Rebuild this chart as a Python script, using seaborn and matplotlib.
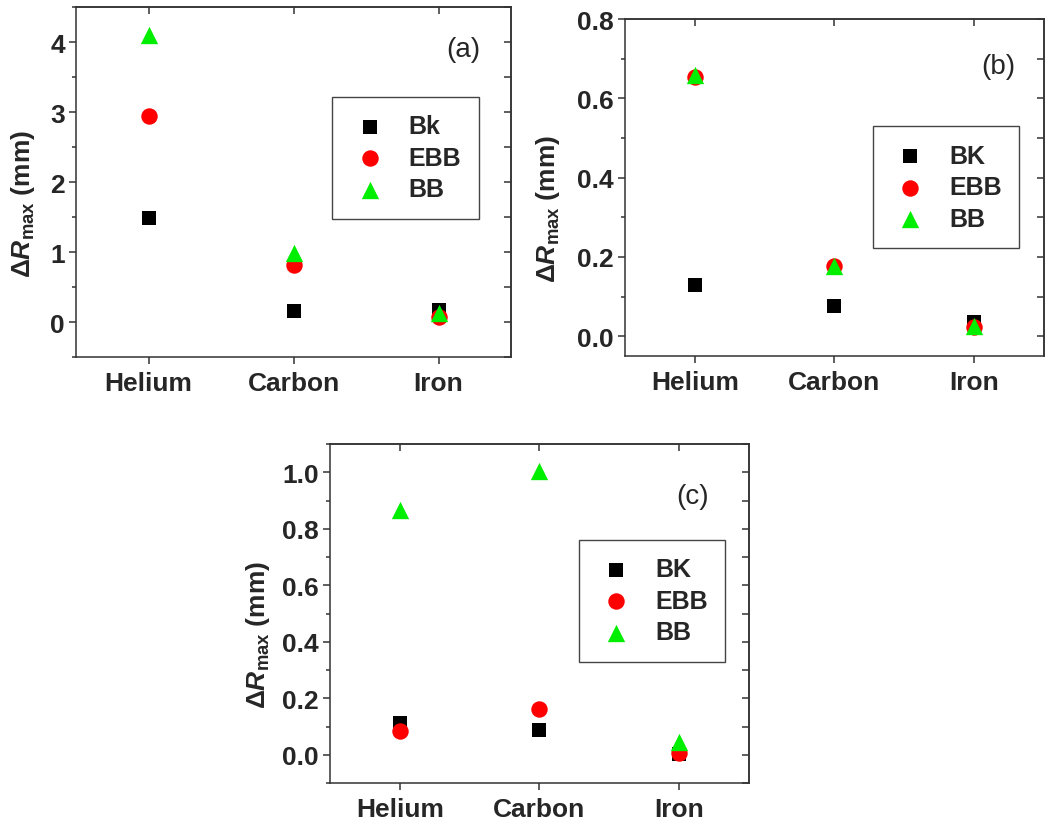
import seaborn as sns
import matplotlib.pyplot as plt
from matplotlib.ticker import MultipleLocator, FormatStrFormatter, NullFormatter

# valores (Delta R_max em mm)
materiais = ['Helium', 'Carbon', 'Iron']

nomes_a = ['Bk', 'EBB', 'BB']
bk_a = [1.49, 0.157, 0.17]
ebb_a = [2.95, 0.82, 0.07]
bb_a = [4.10, 0.99, 0.13]

nomes_bc = ['BK', 'EBB', 'BB']
bk_b = [0.129, 0.076, 0.037]
ebb_b = [0.655, 0.177, 0.022]
bb_b = [0.658, 0.178, 0.027]

bk_c = [0.112, 0.087, 0.004]
ebb_c = [0.085, 0.162, 0.008]
bb_c = [0.868, 1.006, 0.045]

sns.set_style('ticks')
plt.rcParams['font.family'] = ['Liberation Sans', 'DejaVu Sans']
plt.rcParams['font.weight'] = 'bold'
plt.rcParams['axes.labelweight'] = 'bold'
plt.rcParams['mathtext.fontset'] = 'custom'
plt.rcParams['mathtext.rm'] = 'Liberation Sans'
plt.rcParams['mathtext.it'] = 'Liberation Sans:italic:bold'
plt.rcParams['mathtext.bf'] = 'Liberation Sans:bold'

marcadores = ['s', 'o', '^']
cores = ['black', '#ff0000', '#00ee00']
tamanhos = [88, 140, 156]
cor_eixo = '#333333'

fig = plt.figure(figsize=(10.5, 8.28), dpi=100)
ax_a = fig.add_axes([0.0724, 0.5676, 0.4143, 0.4227])
ax_b = fig.add_axes([0.5952, 0.5688, 0.3990, 0.4070])
ax_c = fig.add_axes([0.3143, 0.0531, 0.3990, 0.4094])

paineis = [
    (ax_a, nomes_a, [bk_a, ebb_a, bb_a], (-0.5, 4.5), 1, 0.5, '%d', '(a)', (0.89, 0.88), (0.589, 0.743), -0.09),
    (ax_b, nomes_bc, [bk_b, ebb_b, bb_b], (-0.05, 0.8), 0.2, 0.1, '%.1f', '(b)', (0.89, 0.861), (0.592, 0.682), -0.150),
    (ax_c, nomes_bc, [bk_c, ebb_c, bb_c], (-0.1, 1.1), 0.2, 0.1, '%.1f', '(c)', (0.866, 0.847), (0.594, 0.717), -0.138),
]

for ax, nomes, series, ylim, maior, menor, fmt, letra, pos_letra, pos_leg, pos_lab in paineis:
    for nome, vals, m, c, s in zip(nomes, series, marcadores, cores, tamanhos):
        sns.scatterplot(x=materiais, y=vals, marker=m, color=c, s=s,
                        linewidth=0, label=nome, ax=ax, zorder=3)

    ax.set_xlim(-0.5, 2.5)
    ax.set_ylim(*ylim)
    ax.yaxis.set_major_locator(MultipleLocator(maior))
    ax.yaxis.set_minor_locator(MultipleLocator(menor))
    ax.yaxis.set_major_formatter(FormatStrFormatter(fmt))
    ax.tick_params(axis='both', which='major', direction='out', length=5,
                   width=1.1, labelsize=19, color=cor_eixo)
    ax.tick_params(axis='y', which='minor', direction='out', length=3,
                   width=1.1, color=cor_eixo)
    ax.tick_params(axis='x', pad=5)
    ax.tick_params(axis='y', pad=3)
    for sp in ax.spines.values():
        sp.set_color(cor_eixo)
        sp.set_linewidth(1.1)

    # ticks para dentro no topo e na direita
    sec_y = ax.secondary_yaxis('right')
    sec_y.yaxis.set_major_locator(MultipleLocator(maior))
    sec_y.yaxis.set_minor_locator(MultipleLocator(menor))
    sec_y.yaxis.set_major_formatter(NullFormatter())
    sec_y.tick_params(axis='y', which='both', direction='in', length=5,
                      width=1.1, color=cor_eixo)
    sec_y.spines['right'].set_color(cor_eixo)
    sec_y.spines['right'].set_linewidth(1.1)

    sec_x = ax.secondary_xaxis('top')
    sec_x.set_xticks([0, 1, 2])
    sec_x.xaxis.set_major_formatter(NullFormatter())
    sec_x.tick_params(axis='x', which='both', direction='in', length=5,
                      width=1.1, color=cor_eixo)
    sec_x.spines['top'].set_color(cor_eixo)
    sec_x.spines['top'].set_linewidth(1.1)

    ax.set_xlabel('')
    ax.set_ylabel(r'$\Delta\mathit{R}_{\mathrm{max}}$ (mm)', fontsize=19, fontweight='bold')
    ax.yaxis.set_label_coords(pos_lab, 0.44)

    ax.text(pos_letra[0], pos_letra[1], letra, transform=ax.transAxes,
            fontsize=20, fontweight='normal', ha='center', va='center')

    leg = ax.legend(loc='upper left', bbox_to_anchor=pos_leg, borderaxespad=0,
                    frameon=True, fancybox=False, framealpha=1, edgecolor='#444444',
                    prop={'weight': 'bold', 'size': 18}, borderpad=0.7,
                    handlelength=1.6, handletextpad=0.75, labelspacing=0.3,
                    scatterpoints=1)
    leg.get_frame().set_linewidth(1.0)

fig.savefig('out.png', dpi=100)
